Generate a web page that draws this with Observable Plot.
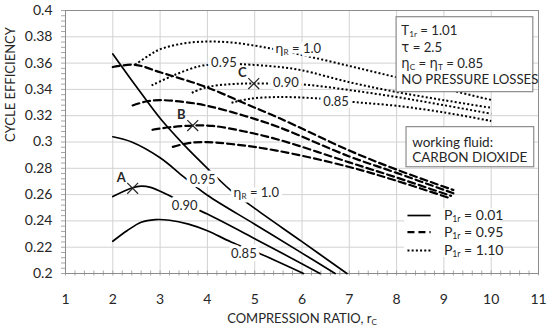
<!DOCTYPE html>
<html><head><meta charset="utf-8">
<script src="https://cdn.jsdelivr.net/npm/d3@7"></script>
<script src="https://cdn.jsdelivr.net/npm/@observablehq/plot@0.6"></script>
<style>
body{margin:0;background:#fff;}
#chart{width:550px;height:335px;}
</style></head><body><div id="chart"></div>
<script>
// ---- Data ----
// P1r = 0.01 (solid), one array per regenerator effectiveness
const solid_100 = [[2,0.367],[2.5,0.342],[3,0.318],[3.5,0.298],[4,0.280],[4.5,0.263],[5,0.2495],[6,0.2242],[6.95,0.2]];
const solid_095 = [[2,0.304],[2.4,0.300],[3,0.288],[3.5,0.2735],[4,0.2595],[5,0.2375],[6,0.2155],[6.7,0.2]];
const solid_090 = [[2,0.2585],[2.4,0.265],[2.6,0.2665],[2.8,0.2655],[3.15,0.260],[3.5,0.2535],[4,0.2452],[5,0.2265],[6.38,0.2]];
const solid_085 = [[2,0.2245],[2.3,0.2325],[2.6,0.239],[2.9,0.241],[3.2,0.2405],[3.6,0.2375],[4,0.2325],[4.5,0.224],[5.1,0.2152],[6.03,0.2]];
// P1r = 0.95 (dashed)
const dash_100 = [[2,0.357],[2.47,0.3587],[3,0.353],[3.5,0.3475],[4,0.3415],[4.76,0.3298],[5.53,0.318],[7,0.2935],[8,0.279],[9.2,0.2635]];
const dash_095 = [[2.42,0.3278],[2.7,0.3308],[3,0.3318],[3.5,0.3305],[4,0.3275],[4.76,0.3202],[5.53,0.311],[7,0.289],[8,0.2765],[9.2,0.261]];
const dash_090 = [[2.84,0.3093],[3.2,0.3112],[3.69,0.3125],[4.12,0.3122],[4.76,0.3082],[5.53,0.3015],[7,0.2845],[8,0.273],[9.15,0.259]];
const dash_085 = [[3.27,0.2963],[3.6,0.2992],[4,0.2999],[4.5,0.2985],[5.46,0.2935],[7,0.281],[8,0.2705],[9.15,0.257]];
// P1r = 1.10 (dotted)
const dot_100 = [[2.47,0.3587],[2.75,0.3655],[3,0.3705],[3.5,0.375],[4,0.3764],[4.5,0.3757],[5,0.3733],[5.5,0.37],[6,0.3662],[7,0.3578],[8,0.3492],[9,0.3405],[10,0.332]];
const dot_095 = [[2.82,0.343],[3.28,0.3506],[3.84,0.3577],[4.3,0.3595],[4.72,0.3592],[5.53,0.357],[6,0.3545],[7,0.3455],[8,0.338],[9,0.3318],[10,0.326]];
const dot_090 = [[3.67,0.3374],[4,0.3418],[4.5,0.344],[5,0.3445],[6,0.3438],[7,0.3395],[8,0.3342],[9,0.328],[10,0.3215]];
const dot_085 = [[4.51,0.3298],[4.9,0.3329],[5.5,0.3342],[6.3,0.3332],[7.12,0.3303],[8,0.3275],[9,0.3225],[10,0.316]];

// Design points A, B, C
const pointNames = ["A","B","C"];
const pointRc    = [2.42, 3.69, 4.98];
const pointEff   = [0.2648, 0.3125, 0.3444];

// Axis ticks
const xTicks = [1,2,3,4,5,6,7,8,9,10,11];
const yTicks = [0.2,0.22,0.24,0.26,0.28,0.3,0.32,0.34,0.36,0.38,0.4];
const yTickLabels = ["0.2","0.22","0.24","0.26","0.28","0.3","0.32","0.34","0.36","0.38","0.4"];

// Curve labels (text, anchor in data coordinates)
const curveLabelText = ["0.95","η_{R} = 1.0","0.90","0.85","η_{R} = 1.0","0.95","0.90","0.85"];
const curveLabelRc   = [3.9, 5.03, 3.52, 4.77, 5.92, 4.35, 5.66, 6.72];
const curveLabelEff  = [0.2712, 0.2612, 0.2517, 0.2152, 0.371, 0.3602, 0.3447, 0.3303];

// Annotation texts
const infoLines  = ["T_{1r} = 1.01","τ = 2.5","η_{C} = η_{T} = 0.85","NO PRESSURE LOSSES"];
const fluidLines = ["working fluid:","CARBON DIOXIDE"];
const legendLabels = ["P_{1r} = 0.01","P_{1r} = 0.95","P_{1r} = 1.10"];

// ---- Build tables ----
const toRows = (arr, eta) => arr.map(([x, y]) => ({x, y, eta}));
const solidRows = [...toRows(solid_100,"1.0"),...toRows(solid_095,"0.95"),...toRows(solid_090,"0.90"),...toRows(solid_085,"0.85")];
const dashRows  = [...toRows(dash_100,"1.0"),...toRows(dash_095,"0.95"),...toRows(dash_090,"0.90"),...toRows(dash_085,"0.85")];
const dotRows   = [...toRows(dot_100,"1.0"),...toRows(dot_095,"0.95"),...toRows(dot_090,"0.90"),...toRows(dot_085,"0.85")];
const points = pointNames.map((n,i) => ({n, x: pointRc[i], y: pointEff[i]}));
const curveLabels = curveLabelText.map((t,i) => ({t, x: curveLabelRc[i], y: curveLabelEff[i]}));

// annotation geometry (data coords)
const infoBox  = [{x1: 8.0, x2: 10.89, y1: 0.3379, y2: 0.3949}];
const fluidBox = [{x1: 8.21, x2: 10.91, y1: 0.2808, y2: 0.3113}];
const legendBg = [{x1: 8.17, x2: 10.2, y1: 0.2122, y2: 0.2494}];
const infoY  = [0.3848, 0.3718, 0.3595, 0.347];
const fluidY = [0.2998, 0.2884];
const legendY = [0.2441, 0.2314, 0.2175];
const DOT = "2,2.2", DASH = "7,4";
const legendRows = legendLabels.map((t,i) => ({t, y: legendY[i]}));

const minorX = d3.range(0, 51).map(i => 1 + i * 0.2);
const minorY = d3.range(0, 51).map(i => 0.2 + i * 0.004);
const lineCol = "#000";

const plot = Plot.plot({
  width: 550, height: 335,
  marginLeft: 65, marginRight: 12, marginTop: 10, marginBottom: 62,
  x: {domain: [1, 11]},
  y: {domain: [0.2, 0.4]},
  style: {fontFamily: "Lato, 'Open Sans', sans-serif", fontSize: "14px", color: "#262626", background: "white"},
  marks: [
    Plot.gridX({ticks: xTicks, stroke: "#d2d2d2", strokeOpacity: 1}),
    Plot.gridY({ticks: yTicks, stroke: "#d2d2d2", strokeOpacity: 1}),
    Plot.axisX({ticks: minorX, tickSize: 5, tickFormat: () => "", stroke: "#a6a6a6", dy: -2.5}),
    Plot.axisY({ticks: minorY, tickSize: 4, tickFormat: () => "", stroke: "#a6a6a6"}),
    Plot.axisX({ticks: xTicks, tickSize: 0, tickPadding: 21, tickFormat: d3.format("d"), label: null}),
    Plot.axisY({ticks: yTicks, tickSize: 0, tickPadding: 13, tickFormat: (d, i) => yTickLabels[i], label: null}),
    Plot.frame({stroke: "#8c8c8c"}),
    Plot.line(solidRows, {x: "x", y: "y", z: "eta", stroke: lineCol, strokeWidth: 1.7, curve: "catmull-rom"}),
    Plot.line(dashRows, {x: "x", y: "y", z: "eta", stroke: lineCol, strokeWidth: 2.2, strokeDasharray: DASH, curve: "catmull-rom"}),
    Plot.line(dotRows, {x: "x", y: "y", z: "eta", stroke: lineCol, strokeWidth: 2, strokeDasharray: DOT, strokeLinecap: "butt", curve: "catmull-rom"}),
    // label halo (drawn first, entirely below the label glyphs)
    Plot.text(curveLabels, {x: "x", y: "y", text: "t", fontSize: 13, fill: "white", stroke: "white", strokeWidth: 7, strokeLinejoin: "round"}),
    Plot.text(curveLabels, {x: "x", y: "y", text: "t", fontSize: 13, fill: "#262626", stroke: "none"}),
    Plot.dot(points, {x: "x", y: "y", symbol: "times", r: 5, stroke: "#262626", strokeWidth: 1.2}),
    Plot.text(points, {x: d => d.x - 0.24, y: d => d.y + 0.0082, text: "n", fontSize: 13, fontWeight: "bold", fill: "#262626"}),
    // info box
    Plot.rect(infoBox, {x1: "x1", x2: "x2", y1: "y1", y2: "y2", fill: "white", stroke: "#8c8c8c", strokeWidth: 1.2}),
    Plot.text(infoLines, {x: 8.1, y: (d, i) => infoY[i], text: d => d, textAnchor: "start", fontSize: 13.2, fill: "#262626"}),
    Plot.rect(fluidBox, {x1: "x1", x2: "x2", y1: "y1", y2: "y2", fill: "white", stroke: "#8c8c8c", strokeWidth: 1.2}),
    Plot.text(fluidLines, {x: 8.33, y: (d, i) => fluidY[i], text: d => d, textAnchor: "start", fontSize: 13.5, fill: "#262626"}),
    // legend
    Plot.rect(legendBg, {x1: "x1", x2: "x2", y1: "y1", y2: "y2", fill: "white"}),
    Plot.ruleY(legendRows.slice(0,1), {y: "y", x1: 8.24, x2: 8.73, stroke: lineCol, strokeWidth: 1.7}),
    Plot.ruleY(legendRows.slice(1,2), {y: "y", x1: 8.24, x2: 8.73, stroke: lineCol, strokeWidth: 2.2, strokeDasharray: DASH}),
    Plot.ruleY(legendRows.slice(2,3), {y: "y", x1: 8.24, x2: 8.73, stroke: lineCol, strokeWidth: 2, strokeDasharray: DOT}),
    Plot.text(legendRows, {x: 9.0, y: "y", text: "t", textAnchor: "start", fontSize: 14, fill: "#262626"}),
    // axis titles
    Plot.text(["CYCLE EFFICIENCY"], {frameAnchor: "left", rotate: -90, dx: -55, fontSize: 13, fill: "#262626"}),
    Plot.text(["COMPRESSION RATIO, r_{C}"], {frameAnchor: "bottom", dy: 49, fontSize: 13, fill: "#262626"})
  ]
});

// subscripts "_{...}" and Greek glyph font
function applySubs(svg) {
  const NS = "http://www.w3.org/2000/svg";
  svg.querySelectorAll("text").forEach(el => {
    const targets = el.querySelectorAll("tspan").length ? Array.from(el.querySelectorAll("tspan")) : [el];
    targets.forEach(t => {
      const s = t.textContent;
      if (!/_\{|[ητ]/.test(s)) return;
      const fs = parseFloat(getComputedStyle(t).fontSize) || 14;
      t.textContent = "";
      const parts = s.split(/(_\{[^}]*\}|[ητ])/).filter(p => p);
      let down = false;
      parts.forEach(p => {
        const ts = document.createElementNS(NS, "tspan");
        if (p.startsWith("_{")) {
          ts.textContent = p.slice(2, -1);
          ts.setAttribute("font-size", (fs * 0.62).toFixed(1) + "px");
          ts.setAttribute("dy", (fs * 0.18).toFixed(1));
          down = true;
        } else {
          ts.textContent = p;
          if (p === "η" || p === "τ") ts.setAttribute("font-family", "'DejaVu Sans', 'Noto Sans', sans-serif");
          if (down) { ts.setAttribute("dy", (-fs * 0.18).toFixed(1)); down = false; }
        }
        t.appendChild(ts);
      });
    });
  });
}
document.getElementById("chart").appendChild(plot);
applySubs(plot);
</script></body></html>
